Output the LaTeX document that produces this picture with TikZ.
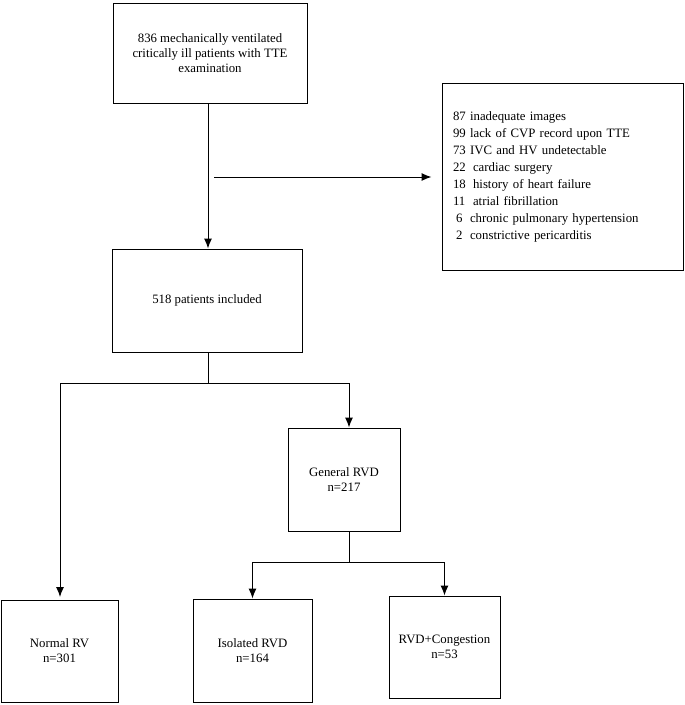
\documentclass[tikz,border=0pt]{standalone}
\usepackage{fontspec}
\setmainfont{Liberation Serif}
\usepackage{array}
\usetikzlibrary{arrows.meta}

\begin{document}
\begin{tikzpicture}[x=1pt,y=-1pt,>={Latex[length=10pt,width=8pt]},line width=1pt,
  box/.style={draw, rectangle, align=center, inner sep=2pt, font=\fontsize{12.8}{15}\selectfont}]
\useasboundingbox (0,0) rectangle (685,705);
\node[box, minimum width=194pt, minimum height=100pt] (screened) at (210,53) {836 mechanically ventilated\\critically ill patients with TTE\\examination};
\node[box, text width=219pt, inner sep=11pt, align=left, minimum height=187pt] (excluded) at (562.5,176.5)
  {\fontsize{12.8}{17}\selectfont
   \begin{tabular}{@{}l@{\ }l@{}}
   87 & inadequate images\\
   99 & lack of CVP record upon TTE\\
   73 & IVC and HV undetectable\\
   22 & \hspace{3pt}cardiac surgery\\
   18 & \hspace{3pt}history of heart failure\\
   11 & \hspace{3pt}atrial fibrillation\\
   \hspace{3pt}6 & chronic pulmonary hypertension\\
   \hspace{3pt}2 & constrictive pericarditis
   \end{tabular}};
\node[box, minimum width=190pt, minimum height=103pt] (included) at (207,300.5) {518 patients included};
\node[box, minimum width=112pt, minimum height=103pt] (general) at (344,479.5) {General RVD\\n=217};
\node[box, minimum width=117pt, minimum height=102pt] (normal) at (59.5,651) {Normal RV\\n=301};
\node[box, minimum width=119pt, minimum height=103pt] (isolated) at (252.5,650.5) {Isolated RVD\\n=164};
\node[box, minimum width=111pt, minimum height=102pt] (congestion) at (444.5,647) {RVD+Congestion\\n=53};

% junction points
\coordinate (top) at (208,103);
\coordinate (side) at (208,177);
\coordinate (fork1) at (208,383);
\coordinate (fork2) at (349,562);

\draw[->] (top) -- (top |- included.north);
\draw[->, shorten <=6pt, shorten >=10pt] (side) -- (side -| excluded.west);
\draw (top |- included.south) -- (fork1);
\draw[->] (fork1) -- (60,383) -- (60,597);
\draw[->] (fork1) -- (349,383) -- (general.north -| 349,0);
\draw (general.south -| fork2) -- (fork2);
\draw[->] (fork2) -- (fork2 -| isolated.north) -- (isolated.north);
\draw[->] (fork2) -- (fork2 -| congestion.north) -- (congestion.north);
\end{tikzpicture}
\end{document}
